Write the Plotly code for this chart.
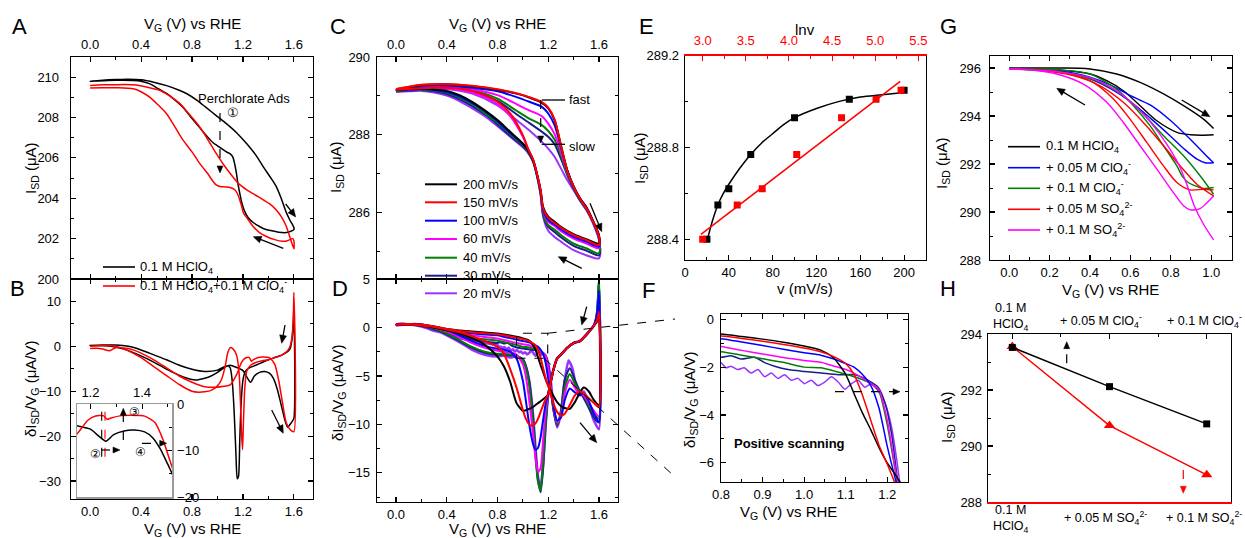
import math
import numpy as np
import plotly.graph_objects as go

FONT = "Liberation Sans, Arial, Helvetica, sans-serif"
W, H = 1245, 538

# ======================= DATA =======================
# ---- Panel A : I_SD (uA) vs V_G, forward + reverse sweeps
A_k_fwd_v = [0, 0.1, 0.2, 0.3, 0.4, 0.5, 0.6, 0.7, 0.76, 0.84, 0.91, 1.0, 1.07, 1.15, 1.23, 1.3, 1.36, 1.42, 1.46, 1.5, 1.54, 1.57, 1.6]
A_k_fwd_i = [209.8, 209.85, 209.88, 209.9, 209.87, 209.75, 209.58, 209.35, 209.18, 208.85, 208.5, 208.05, 207.7, 207.25, 206.7, 206.15, 205.56, 205.0, 204.6, 204.0, 203.3, 202.9, 202.55]
A_k_rev_v = [1.6, 1.57, 1.54, 1.48, 1.42, 1.38, 1.33, 1.28, 1.24, 1.21, 1.19, 1.175, 1.16, 1.15, 1.135, 1.12, 1.1, 1.07, 1.0, 0.966, 0.9, 0.86, 0.8, 0.73, 0.66, 0.6, 0.53, 0.47, 0.4, 0.34, 0.2, 0.1, 0]
A_k_rev_i = [202.45, 202.35, 202.3, 202.32, 202.4, 202.45, 202.6, 202.8, 203.05, 203.4, 203.8, 204.25, 204.75, 205.2, 205.7, 206.05, 206.2, 206.3, 206.6, 206.75, 207.2, 207.5, 207.95, 208.5, 208.9, 209.2, 209.45, 209.67, 209.8, 209.84, 209.85, 209.82, 209.8]
A_r_fwd_v = [0, 0.1, 0.2, 0.34, 0.45, 0.55, 0.63, 0.705, 0.78, 0.86, 0.93, 0.99, 1.05, 1.12, 1.17, 1.23, 1.3, 1.36, 1.41, 1.46, 1.5, 1.54, 1.57, 1.6]
A_r_fwd_i = [209.59, 209.62, 209.63, 209.62, 209.5, 209.34, 209.05, 208.69, 208.15, 207.54, 206.85, 206.22, 205.65, 205.07, 204.7, 204.42, 204.15, 203.92, 203.72, 203.43, 203.1, 202.61, 202.05, 201.5]
A_r_rev_v = [1.6, 1.59, 1.55, 1.51, 1.45, 1.38, 1.33, 1.28, 1.24, 1.21, 1.2, 1.19, 1.175, 1.155, 1.136, 1.1, 1.06, 1.02, 0.99, 0.966, 0.92, 0.86, 0.8, 0.73, 0.66, 0.6, 0.53, 0.47, 0.4, 0.34, 0.2, 0.1, 0]
A_r_rev_i = [201.9, 202.0, 201.9, 201.87, 201.95, 202.12, 202.3, 202.6, 202.95, 203.2, 203.35, 203.6, 203.92, 204.25, 204.42, 204.53, 204.56, 204.58, 204.66, 204.83, 205.25, 205.73, 206.3, 206.88, 207.6, 208.19, 208.65, 209.0, 209.28, 209.43, 209.48, 209.48, 209.47]

# ---- Panel B : dI_SD/dV_G (uA/V)
B_k_fwd_v = [0, 0.1, 0.2, 0.3, 0.4, 0.5, 0.6, 0.7, 0.8, 0.9, 1.0, 1.05, 1.1, 1.15, 1.2, 1.23, 1.26, 1.29, 1.33, 1.37, 1.41, 1.44, 1.47, 1.5, 1.53, 1.55, 1.58, 1.6]
B_k_fwd_d = [0.2, 0.3, 0.3, 0.0, -0.8, -1.9, -3.0, -4.2, -5.1, -5.6, -5.3, -4.6, -4.2, -4.7, -5.4, -6.8, -8.0, -6.6, -5.8, -5.6, -6.0, -7.2, -9.6, -13.0, -16.5, -18.0, -17.0, -16.0]
B_k_rev_v = [1.6, 1.595, 1.585, 1.57, 1.55, 1.5, 1.45, 1.4, 1.35, 1.3, 1.25, 1.22, 1.2, 1.185, 1.175, 1.165, 1.155, 1.145, 1.13, 1.115, 1.1, 1.08, 1.05, 1.0, 0.95, 0.9, 0.83, 0.75, 0.65, 0.55, 0.45, 0.35, 0.25, 0.15, 0.05, 0]
B_k_rev_d = [9.0, 5.0, 1.5, -0.5, -1.2, -2.0, -2.5, -3.0, -3.6, -4.2, -4.8, -5.5, -7.5, -13.0, -21.0, -29.0, -29.5, -24.0, -14.0, -7.5, -4.8, -4.3, -4.8, -5.8, -6.6, -7.1, -7.5, -7.0, -5.8, -4.3, -2.8, -1.5, -0.5, 0.1, 0.2, 0.2]
B_r_fwd_v = [0, 0.05, 0.1, 0.15, 0.2, 0.3, 0.4, 0.5, 0.6, 0.7, 0.8, 0.9, 1.0, 1.05, 1.1, 1.15, 1.19, 1.22, 1.25, 1.265, 1.28, 1.32, 1.36, 1.41, 1.45, 1.48, 1.51, 1.54, 1.57, 1.6]
B_r_fwd_d = [-0.5, -0.4, -0.6, -1.0, -0.3, -0.5, -1.5, -3.0, -4.8, -6.6, -8.0, -9.0, -9.1, -8.9, -8.6, -6.3, -3.5, -2.6, -2.5, -3.3, -3.0, -2.5, -2.4, -2.6, -4.0, -7.5, -12.5, -17.0, -18.5, -19.0]
B_r_rev_v = [1.6, 1.595, 1.585, 1.57, 1.55, 1.5, 1.45, 1.4, 1.35, 1.3, 1.26, 1.23, 1.215, 1.205, 1.197, 1.19, 1.18, 1.17, 1.15, 1.12, 1.1, 1.08, 1.06, 1.03, 1.0, 0.95, 0.9, 0.85, 0.8, 0.7, 0.6, 0.5, 0.4, 0.3, 0.2, 0.1, 0]
B_r_rev_d = [12.0, 6.0, 2.0, 0.0, -1.0, -2.0, -2.5, -3.0, -3.2, -3.6, -4.2, -5.5, -9.0, -16.0, -23.0, -20.0, -12.0, -6.0, -2.0, -0.5, -0.3, -1.5, -4.5, -7.5, -8.8, -9.8, -10.1, -10.2, -10.0, -8.5, -6.5, -4.5, -2.5, -1.0, 0.0, 0.2, 0.0]

# ---- Panel C : I_SD vs V_G at several scan rates
RATE_LABELS = ["200 mV/s", "150 mV/s", "100 mV/s", "60 mV/s", "40 mV/s", "30 mV/s", "20 mV/s"]
C_vf = [0, 0.2, 0.4, 0.6, 0.8, 0.95, 1.05, 1.15, 1.2, 1.25, 1.3, 1.35, 1.4, 1.45, 1.5, 1.55, 1.6]
C_fwd_200 = [289.17, 289.28, 289.30, 289.25, 289.16, 289.06, 288.96, 288.82, 288.68, 288.38, 287.74, 287.09, 286.68, 286.37, 286.14, 285.81, 285.43]
C_fwd_150 = [289.18, 289.29, 289.30, 289.26, 289.17, 289.07, 288.97, 288.84, 288.70, 288.40, 287.72, 287.08, 286.67, 286.36, 286.12, 285.80, 285.40]
C_fwd_100 = [289.15, 289.26, 289.27, 289.21, 289.12, 288.97, 288.85, 288.72, 288.55, 288.25, 287.68, 287.09, 286.68, 286.37, 286.14, 285.81, 285.40]
C_fwd_60 = [289.15, 289.25, 289.25, 289.17, 289.02, 288.79, 288.63, 288.48, 288.29, 288.02, 287.56, 287.05, 286.67, 286.37, 286.14, 285.81, 285.38]
C_fwd_40 = [289.14, 289.24, 289.23, 289.15, 288.93, 288.62, 288.42, 288.25, 288.10, 287.88, 287.48, 287.01, 286.64, 286.34, 286.11, 285.79, 285.37]
C_fwd_30 = [289.13, 289.23, 289.21, 289.11, 288.87, 288.53, 288.31, 288.08, 287.95, 287.76, 287.39, 286.97, 286.62, 286.32, 286.09, 285.78, 285.34]
C_fwd_20 = [289.11, 289.21, 289.18, 289.06, 288.76, 288.38, 288.12, 287.82, 287.65, 287.44, 287.14, 286.84, 286.58, 286.31, 286.07, 285.75, 285.30]
C_vr = [1.6, 1.5, 1.4, 1.3, 1.25, 1.2, 1.16, 1.14, 1.11, 1.08, 1.04, 1.0, 0.9, 0.8, 0.7, 0.6, 0.5, 0.4, 0.3, 0.2, 0.1, 0.0]
C_rev_200 = [285.21, 285.32, 285.45, 285.64, 285.77, 285.90, 286.15, 286.58, 287.01, 287.35, 287.61, 287.78, 288.08, 288.38, 288.63, 288.85, 289.02, 289.13, 289.17, 289.19, 289.18, 289.16]
C_rev_150 = [285.17, 285.30, 285.43, 285.62, 285.74, 285.87, 286.11, 286.58, 287.01, 287.37, 287.65, 287.99, 288.55, 288.85, 289.02, 289.13, 289.19, 289.21, 289.21, 289.20, 289.18, 289.16]
C_rev_100 = [285.13, 285.26, 285.38, 285.57, 285.70, 285.81, 286.07, 286.54, 287.01, 287.35, 287.61, 287.76, 288.05, 288.35, 288.61, 288.82, 288.99, 289.10, 289.15, 289.17, 289.16, 289.15]
C_rev_60 = [285.09, 285.21, 285.34, 285.53, 285.66, 285.77, 286.04, 286.54, 287.01, 287.37, 287.65, 287.95, 288.48, 288.79, 288.97, 289.09, 289.16, 289.19, 289.19, 289.18, 289.16, 289.15]
C_rev_40 = [284.96, 285.09, 285.21, 285.43, 285.57, 285.68, 285.98, 286.50, 286.97, 287.33, 287.58, 287.74, 288.02, 288.31, 288.56, 288.79, 288.96, 289.08, 289.14, 289.15, 289.15, 289.13]
C_rev_30 = [284.91, 285.03, 285.15, 285.37, 285.51, 285.64, 285.94, 286.50, 286.97, 287.33, 287.56, 287.71, 287.98, 288.27, 288.53, 288.74, 288.92, 289.05, 289.12, 289.15, 289.14, 289.12]
C_rev_20 = [284.83, 284.91, 285.04, 285.26, 285.38, 285.54, 285.90, 286.45, 286.97, 287.31, 287.54, 287.68, 287.95, 288.22, 288.48, 288.68, 288.87, 289.01, 289.09, 289.13, 289.12, 289.10]

# ---- Panel D (and F, zoom of forward scans): dI_SD/dV_G at several scan rates
D_vf = [0, 0.1, 0.2, 0.3, 0.4, 0.5, 0.6, 0.7, 0.8, 0.85, 0.9, 0.95, 1.0, 1.04, 1.07, 1.1, 1.12, 1.14, 1.16, 1.18, 1.2, 1.22, 1.24, 1.27, 1.3, 1.33, 1.37, 1.41, 1.45, 1.48, 1.52, 1.56, 1.6]
D_fwd_200 = [0.3, 0.35, 0.3, 0.1, -0.15, -0.3, -0.42, -0.52, -0.62, -0.72, -0.83, -0.96, -1.12, -1.29, -1.6, -2.3, -3.1, -3.9, -4.6, -5.35, -6.0, -6.5, -7.05, -7.7, -8.1, -8.3, -8.4, -7.7, -6.7, -6.2, -6.6, -7.5, -8.0]
D_fwd_150 = [0.3, 0.35, 0.3, 0.1, -0.15, -0.35, -0.48, -0.6, -0.7, -0.8, -0.92, -1.05, -1.2, -1.36, -1.55, -1.85, -2.3, -3.15, -4.2, -5.25, -6.05, -6.9, -7.8, -8.7, -9.1, -8.9, -8.0, -7.0, -6.6, -6.8, -7.3, -7.8, -8.2]
D_fwd_100 = [0.3, 0.35, 0.3, 0.05, -0.25, -0.45, -0.6, -0.72, -0.81, -0.95, -1.1, -1.25, -1.4, -1.5, -1.65, -1.85, -2.0, -2.3, -2.75, -3.7, -5.3, -6.7, -8.0, -9.6, -9.3, -7.5, -6.3, -6.7, -7.0, -6.8, -7.6, -8.9, -9.7]
D_fwd_60 = [0.3, 0.3, 0.25, 0.0, -0.35, -0.6, -0.8, -0.98, -1.14, -1.3, -1.45, -1.6, -1.72, -1.8, -1.95, -2.1, -2.25, -2.45, -2.68, -2.95, -4.2, -6.3, -8.0, -9.8, -9.2, -6.8, -5.4, -6.2, -7.0, -7.0, -7.8, -8.6, -9.2]
D_fwd_40 = [0.3, 0.3, 0.2, -0.1, -0.45, -0.8, -1.05, -1.22, -1.36, -1.5, -1.65, -1.8, -2.0, -2.03, -2.15, -2.3, -2.4, -2.52, -2.68, -3.0, -4.4, -6.4, -8.3, -10.0, -8.9, -6.2, -4.8, -5.8, -6.8, -7.0, -8.0, -8.9, -9.4]
D_v30 = [0, 0.1, 0.2, 0.3, 0.4, 0.5, 0.6, 0.7, 0.8, 0.824, 0.848, 0.881, 0.905, 0.929, 0.961, 1.001, 1.042, 1.082, 1.122, 1.154, 1.178, 1.195, 1.211, 1.223, 1.24, 1.27, 1.3, 1.33, 1.37, 1.41, 1.45, 1.48, 1.52, 1.56, 1.6]
D_fwd_30 = [0.3, 0.3, 0.15, -0.2, -0.6, -0.95, -1.2, -1.42, -1.59, -1.52, -1.66, -1.59, -1.81, -1.96, -2.1, -2.18, -2.25, -2.32, -2.32, -2.55, -2.84, -3.51, -4.84, -6.47, -8.5, -10.1, -8.6, -5.4, -4.2, -5.4, -6.6, -7.3, -8.3, -9.3, -9.8]
D_v20 = [0, 0.05, 0.1, 0.15, 0.2, 0.25, 0.3, 0.35, 0.4, 0.45, 0.5, 0.55, 0.6, 0.65, 0.7, 0.75, 0.8,
         0.812, 0.824, 0.840, 0.856, 0.872, 0.889, 0.905, 0.921, 0.937, 0.953, 0.969, 0.985, 1.001, 1.017,
         1.033, 1.050, 1.066, 1.082, 1.098, 1.114, 1.130, 1.146, 1.162, 1.178, 1.195, 1.211, 1.223, 1.231,
         1.25, 1.27, 1.3, 1.33, 1.36, 1.39, 1.425, 1.45, 1.48, 1.52, 1.56, 1.6]
D_fwd_20 = [0.3, 0.4, 0.3, 0.35, 0.1, -0.1, -0.35, -0.5, -0.75, -0.95, -1.1, -1.2, -1.35, -1.45, -1.6, -1.7, -1.81,
            -2.03, -1.96, -2.10, -2.03, -2.25, -2.10, -2.40, -2.25, -2.47, -2.32, -2.55, -2.47, -2.69, -2.55,
            -2.77, -2.62, -2.40, -2.62, -2.92, -2.69, -2.55, -2.84, -2.69, -2.99, -3.51, -4.55, -5.88, -6.92,
            -8.9, -10.3, -8.8, -5.5, -3.4, -4.2, -6.4, -6.7, -6.6, -8.0, -9.6, -10.5]
D_vr = [1.6, 1.59, 1.58, 1.56, 1.53, 1.5, 1.45, 1.4, 1.35, 1.3, 1.27, 1.24, 1.22, 1.2, 1.18, 1.16, 1.14, 1.12, 1.1, 1.08, 1.05, 1.02, 1.0, 0.95, 0.9, 0.85, 0.8, 0.7, 0.6, 0.5, 0.4, 0.3, 0.2, 0.1, 0]
D_rev_200 = [1.2, 0.8, 0.5, 0.2, -0.3, -0.75, -1.4, -1.6, -2.1, -2.8, -3.2, -4.4, -5.6, -6.9, -7.2, -7.4, -7.6, -7.8, -8.0, -8.2, -8.4, -8.55, -8.6, -7.8, -5.6, -4.0, -3.0, -1.8, -1.1, -0.6, -0.3, 0.0, 0.2, 0.3, 0.3]
D_rev_150 = [1.6, 1.0, 0.6, 0.2, -0.3, -0.75, -1.4, -1.6, -2.1, -2.8, -3.2, -4.4, -5.6, -6.9, -7.4, -8.0, -8.7, -9.4, -9.9, -10.1, -10.0, -9.3, -8.5, -6.2, -4.3, -2.7, -2.0, -1.4, -0.9, -0.5, -0.2, 0.05, 0.2, 0.3, 0.3]
D_rev_100 = [3.8, 2.0, 1.0, 0.2, -0.3, -0.75, -1.4, -1.6, -2.1, -2.8, -3.2, -4.4, -5.6, -6.9, -7.8, -9.5, -11.3, -12.4, -12.6, -12.0, -10.0, -7.2, -5.5, -3.2, -2.5, -2.3, -2.2, -1.9, -1.4, -0.8, -0.3, 0.0, 0.2, 0.3, 0.3]
D_rev_60 = [3.5, 1.8, 0.9, 0.2, -0.3, -0.75, -1.4, -1.6, -2.1, -2.8, -3.2, -4.4, -5.6, -6.9, -8.5, -11.5, -14.5, -14.9, -13.5, -11.0, -7.5, -4.8, -3.8, -2.8, -2.6, -2.5, -2.4, -2.1, -1.6, -1.0, -0.4, 0.0, 0.2, 0.3, 0.3]
D_rev_40 = [5.0, 2.5, 1.1, 0.2, -0.3, -0.75, -1.4, -1.6, -2.1, -2.8, -3.2, -4.4, -5.6, -6.9, -9.5, -13.5, -16.8, -16.0, -13.5, -10.0, -6.0, -4.0, -3.4, -2.9, -2.8, -2.7, -2.7, -2.5, -2.0, -1.3, -0.6, -0.1, 0.2, 0.3, 0.3]
D_rev_30 = [4.8, 2.4, 1.1, 0.2, -0.3, -0.75, -1.4, -1.6, -2.1, -2.8, -3.2, -4.4, -5.6, -6.9, -10.0, -14.5, -17.0, -15.8, -12.8, -9.2, -5.5, -3.8, -3.3, -2.9, -2.9, -2.8, -2.8, -2.6, -2.1, -1.4, -0.7, -0.15, 0.15, 0.3, 0.3]
D_rev_20 = [4.5, 2.2, 1.0, 0.2, -0.3, -0.75, -1.4, -1.6, -2.1, -2.8, -3.2, -4.4, -5.6, -6.9, -10.0, -14.0, -16.4, -15.5, -12.5, -9.0, -5.5, -3.9, -3.3, -3.0, -3.1, -2.9, -3.0, -2.8, -2.3, -1.5, -0.8, -0.2, 0.1, 0.3, 0.2]

# ---- Panel E : I_SD at fixed V_G vs scan rate v and ln v
E_v = [20, 30, 40, 60, 100, 150, 200]
E_lnv = [3.00, 3.40, 3.69, 4.09, 4.61, 5.01, 5.30]
E_isd = [288.40, 288.55, 288.62, 288.77, 288.93, 289.01, 289.05]
E_fit_v = [20, 25, 30, 35, 40, 50, 60, 70, 80, 90, 100, 120, 140, 160, 180, 200]
E_fit_i = [288.39, 288.48, 288.55, 288.60, 288.64, 288.71, 288.77, 288.82, 288.86, 288.90, 288.93, 288.97, 289.00, 289.02, 289.03, 289.04]
E_lin_range = [2.98, 5.29]

# ---- Panel G : I_SD vs V_G in different electrolytes
G_labels = ["0.1 M HClO<sub>4</sub>", "+ 0.05 M ClO<sub>4</sub><sup>-</sup>", "+ 0.1 M ClO<sub>4</sub><sup>-</sup>",
            "+ 0.05 M SO<sub>4</sub><sup>2-</sup>", "+ 0.1 M SO<sub>4</sub><sup>2-</sup>"]
G_k_fwd_v = [0, 0.235, 0.4, 0.532, 0.648, 0.764, 0.863, 0.962, 1.012]
G_k_fwd_i = [296.0, 296.0, 295.96, 295.75, 295.40, 294.92, 294.43, 293.87, 293.48]
G_k_rev_v = [1.012, 0.95, 0.896, 0.83, 0.731, 0.648, 0.565, 0.483, 0.4, 0.235, 0]
G_k_rev_i = [293.22, 293.2, 293.22, 293.32, 293.80, 294.43, 295.05, 295.47, 295.75, 295.93, 295.96]
G_b_fwd_v = [0, 0.2, 0.3, 0.4, 0.5, 0.6, 0.7, 0.8, 0.9, 0.97, 1.012]
G_b_fwd_i = [295.96, 295.9, 295.82, 295.62, 295.3, 294.85, 294.45, 293.8, 293.0, 292.4, 292.05]
G_b_rev_v = [1.012, 0.97, 0.93, 0.87, 0.8, 0.7, 0.6, 0.5, 0.4, 0.3, 0.15, 0]
G_b_rev_i = [292.05, 292.05, 292.2, 292.6, 293.15, 293.9, 294.6, 295.15, 295.55, 295.8, 295.92, 295.96]
G_g_fwd_v = [0, 0.15, 0.317, 0.45, 0.565, 0.664, 0.764, 0.863, 0.945, 1.012]
G_g_fwd_i = [295.99, 295.93, 295.75, 295.40, 294.85, 294.08, 293.18, 292.34, 291.51, 290.74]
G_g_rev_v = [1.012, 0.962, 0.912, 0.888, 0.86, 0.83, 0.764, 0.698, 0.615, 0.532, 0.4, 0.235, 0]
G_g_rev_i = [291.02, 290.98, 291.12, 291.22, 291.45, 291.92, 292.76, 293.59, 294.43, 295.12, 295.75, 295.93, 295.96]
G_r_fwd_v = [0, 0.15, 0.317, 0.45, 0.565, 0.664, 0.764, 0.846, 0.929, 1.012]
G_r_fwd_i = [295.96, 295.9, 295.68, 295.26, 294.57, 293.73, 292.76, 291.92, 291.16, 290.67]
G_r_rev_v = [1.012, 0.962, 0.896, 0.83, 0.764, 0.681, 0.598, 0.516, 0.4, 0.235, 0]
G_r_rev_i = [290.92, 290.95, 290.92, 291.23, 291.92, 292.90, 293.87, 294.71, 295.47, 295.85, 295.96]
G_m_fwd_v = [0, 0.235, 0.4, 0.532, 0.631, 0.714, 0.78, 0.838, 0.879, 0.916, 0.962, 1.012]
G_m_fwd_i = [295.96, 295.85, 295.6, 295.05, 294.36, 293.59, 292.83, 292.0, 291.16, 290.26, 289.49, 288.84]
G_m_rev_v = [1.012, 0.979, 0.945, 0.896, 0.863, 0.813, 0.731, 0.648, 0.565, 0.483, 0.367, 0.235, 0.102, 0]
G_m_rev_i = [290.67, 290.39, 290.14, 290.09, 290.26, 290.81, 291.79, 292.76, 293.73, 294.57, 295.33, 295.75, 295.92, 295.96]

# ---- Panel H : I_SD vs added anion
H_pos = [0, 1, 2]
H_top_labels = ["0.1 M<br>HClO<sub>4</sub>", "+ 0.05 M ClO<sub>4</sub><sup>-</sup>", "+ 0.1 M ClO<sub>4</sub><sup>-</sup>"]
H_bot_labels = ["0.1 M<br>HClO<sub>4</sub>", "+ 0.05 M SO<sub>4</sub><sup>2-</sup>", "+ 0.1 M SO<sub>4</sub><sup>2-</sup>"]
H_clo4 = [293.52, 292.12, 290.79]
H_so4 = [293.55, 290.73, 288.97]

# ======================= STYLE / LAYOUT =======================
RATE_COLORS = ["#000000", "#ff0000", "#0000ff", "#ff00ff", "#008000", "#1c1c8c", "#9933ff"]
G_COLORS = ["#000000", "#0000ff", "#008000", "#ff0000", "#ff00ff"]


def dx(a, b):
    return [a / W, b / W]


def dy(top, bot):
    return [1 - bot / H, 1 - top / H]


def axis(dom, rng, dtick=None, mdtick=None, tick0=0, side=None, anchor=None, mirror='allticks',
         labels=True, line='black', tick='black', font='black', tickvals=None, ticktext=None,
         overlaying=None, lw=1.3, fsize=13, standoff=2, ticks='inside', fmt=None):
    d = dict(range=rng, showgrid=False, zeroline=False, showline=True, linecolor=line, linewidth=lw,
             ticks=ticks, ticklen=5, tickwidth=1.1, tickcolor=tick, mirror=mirror,
             showticklabels=labels, tickfont=dict(family=FONT, size=fsize, color=font),
             ticklabelstandoff=standoff, anchor=anchor, automargin=False, fixedrange=True)
    if fmt:
        d['tickformat'] = fmt
    if dom is not None:
        d['domain'] = dom
    if side:
        d['side'] = side
    if overlaying:
        d['overlaying'] = overlaying
    if tickvals is not None:
        d['tickmode'] = 'array'
        d['tickvals'] = tickvals
        if ticktext is not None:
            d['ticktext'] = ticktext
    else:
        d['tick0'] = tick0
        d['dtick'] = dtick
    if mdtick:
        d['minor'] = dict(ticks='inside', ticklen=3, tickwidth=1, tickcolor=tick, dtick=mdtick, tick0=tick0)
    return d


VRANGE = [-0.15, 1.75]
GRAY = '#9a9a9a'
layout_axes = dict(
    xaxis=axis(dx(71, 313), VRANGE, 0.4, 0.2, side='top', anchor='y', fmt='.1f'),
    yaxis=axis(dy(57, 279), [200, 211], 2, 1, anchor='x', standoff=8),
    xaxis2=axis(dx(71, 313), VRANGE, 0.4, 0.2, anchor='y2', fmt='.1f', standoff=0),
    yaxis2=axis(dy(279, 499), [-34, 15], 10, 5, anchor='x2', standoff=6),
    xaxis3=axis(dx(77, 172), [1.148, 1.516], 0.2, 0.1, tick0=1.2, side='top', anchor='y3', mirror=True,
                line=GRAY, lw=1.5, standoff=0, fmt='.1f'),
    yaxis3=axis(dy(404, 497), [-20, 0], 10, 5, side='right', anchor='x3', mirror=True, line=GRAY, lw=1.5,
                standoff=1),
    xaxis4=axis(dx(377, 618), VRANGE, 0.4, 0.2, side='top', anchor='y4', fmt='.1f'),
    yaxis4=axis(dy(57, 279), [284.3, 290], 2, 1, anchor='x4', standoff=3),
    xaxis5=axis(dx(377, 618), VRANGE, 0.4, 0.2, anchor='y5', fmt='.1f', standoff=0),
    yaxis5=axis(dy(279, 502), [-18, 5], 5, 2.5, anchor='x5', standoff=3),
    xaxis6=axis(dx(685, 926), [0, 220], 40, 20, anchor='y6', mirror=False, standoff=0),
    yaxis6=axis(dy(55.7, 260), [288.31, 289.2], 0.4, 0.2, tick0=288.4, anchor='x6', mirror=True,
                fmt='.1f', standoff=2),
    xaxis7=axis(None, [2.795, 5.589], 0.5, 0.25, tick0=3.0, side='top', anchor='y6', overlaying='x6',
                mirror=False, line='#ff0000', tick='#ff0000', font='#ff0000', lw=1.6, fmt='.1f', standoff=4),
    xaxis8=axis(dx(721, 908), [0.8, 1.25], 0.1, 0.05, tick0=0.8, anchor='y8', fmt='.1f', standoff=0),
    yaxis8=axis(dy(314, 482), [-6.8, 0.22], 2, 1, anchor='x8', standoff=3),
    xaxis9=axis(dx(990, 1232), [-0.095, 1.103], 0.2, 0.1, anchor='y9', fmt='.1f', standoff=0),
    yaxis9=axis(dy(56, 260), [288, 296.5], 2, 1, anchor='x9', standoff=5),
    xaxis10=axis(dx(988, 1231), [-0.25, 2.25], tickvals=H_pos, labels=False, anchor='y10',
                 mirror=False, line='#ff0000', lw=1.8, ticks=''),
    yaxis10=axis(dy(334, 502), [288, 294], 2, 1, anchor='x10', mirror=True, standoff=2),
    xaxis11=axis(None, [-0.25, 2.25], tickvals=H_pos, labels=False, mdtick=0.5, side='top',
                 anchor='y10', overlaying='x10', mirror=False),
)

traces = []


def line(xs, ys, xa, ya, color, width=1.5, smooth=0.8):
    traces.append(go.Scatter(x=xs, y=ys, xaxis=xa, yaxis=ya, mode='lines',
                             line=dict(color=color, width=width, shape='spline', smoothing=smooth),
                             showlegend=False, hoverinfo='skip'))


# Panel A
line(A_k_fwd_v + A_k_rev_v, A_k_fwd_i + A_k_rev_i, 'x', 'y', 'black', 1.5)
line(A_r_fwd_v + A_r_rev_v, A_r_fwd_i + A_r_rev_i, 'x', 'y', '#ff0000', 1.5)
# Panel B (+ inset with forward scans)
line(B_k_fwd_v + B_k_rev_v, B_k_fwd_d + B_k_rev_d, 'x2', 'y2', 'black', 1.5, 0.6)
line(B_r_fwd_v + B_r_rev_v, B_r_fwd_d + B_r_rev_d, 'x2', 'y2', '#ff0000', 1.5, 0.6)
line(B_k_fwd_v, B_k_fwd_d, 'x3', 'y3', 'black', 1.5, 0.6)
line(B_r_fwd_v, B_r_fwd_d, 'x3', 'y3', '#ff0000', 1.5, 0.6)

# Panel C
C_fwd = [C_fwd_200, C_fwd_150, C_fwd_100, C_fwd_60, C_fwd_40, C_fwd_30, C_fwd_20]
C_rev = [C_rev_200, C_rev_150, C_rev_100, C_rev_60, C_rev_40, C_rev_30, C_rev_20]
order = [6, 5, 4, 3, 2, 0, 1]
for k in order:
    line(C_vf + C_vr, C_fwd[k] + C_rev[k], 'x4', 'y4', RATE_COLORS[k], 2.0)

# Panel D and F
D_fwd_v = [D_vf, D_vf, D_vf, D_vf, D_vf, D_v30, D_v20]
D_fwd = [D_fwd_200, D_fwd_150, D_fwd_100, D_fwd_60, D_fwd_40, D_fwd_30, D_fwd_20]
D_rev = [D_rev_200, D_rev_150, D_rev_100, D_rev_60, D_rev_40, D_rev_30, D_rev_20]
for k in order:
    wd = 2.6 if k == 6 else 2.0
    line(D_fwd_v[k] + D_vr, D_fwd[k] + D_rev[k], 'x5', 'y5', RATE_COLORS[k], wd, 0.6)
for k in order:
    line(D_fwd_v[k], D_fwd[k], 'x8', 'y8', RATE_COLORS[k], 1.5, 0.6)

# Panel E
traces.append(go.Scatter(x=E_fit_v, y=E_fit_i, xaxis='x6', yaxis='y6', mode='lines',
                         line=dict(color='black', width=1.5, shape='spline'), showlegend=False, hoverinfo='skip'))
coef = np.polyfit(E_lnv, E_isd, 1)
traces.append(go.Scatter(x=E_lin_range, y=list(np.polyval(coef, E_lin_range)), xaxis='x7', yaxis='y6',
                         mode='lines', line=dict(color='#ff0000', width=1.5), showlegend=False, hoverinfo='skip'))
traces.append(go.Scatter(x=E_lnv, y=E_isd, xaxis='x7', yaxis='y6', mode='markers',
                         marker=dict(symbol='square', size=7, color='#ff0000'), showlegend=False, hoverinfo='skip'))
traces.append(go.Scatter(x=E_v, y=E_isd, xaxis='x6', yaxis='y6', mode='markers',
                         marker=dict(symbol='square', size=7, color='black'), showlegend=False, hoverinfo='skip'))

# Panel G
G_sets = [(G_k_fwd_v, G_k_fwd_i, G_k_rev_v, G_k_rev_i), (G_b_fwd_v, G_b_fwd_i, G_b_rev_v, G_b_rev_i),
          (G_g_fwd_v, G_g_fwd_i, G_g_rev_v, G_g_rev_i), (G_r_fwd_v, G_r_fwd_i, G_r_rev_v, G_r_rev_i),
          (G_m_fwd_v, G_m_fwd_i, G_m_rev_v, G_m_rev_i)]
for k, (fv, fi, rv, ri) in enumerate(G_sets):
    line(fv + [None] + rv, fi + [None] + ri, 'x9', 'y9', G_COLORS[k], 1.4)

# Panel H (ClO4- series on the top axis, SO4 2- series on the bottom axis)
traces.append(go.Scatter(x=H_pos, y=H_so4, xaxis='x10', yaxis='y10', mode='lines+markers',
                         line=dict(color='#ff0000', width=1.5),
                         marker=dict(symbol='triangle-up', size=10, color='#ff0000'),
                         showlegend=False, hoverinfo='skip'))
traces.append(go.Scatter(x=H_pos, y=H_clo4, xaxis='x11', yaxis='y10', mode='lines+markers',
                         line=dict(color='black', width=1.5), marker=dict(symbol='square', size=7, color='black'),
                         showlegend=False, hoverinfo='skip'))

# ======================= ANNOTATIONS / SHAPES =======================
shapes = []
annotations = []


def P(x, y):
    return x / W, 1 - y / H


def pline(x0, y0, x1, y1, color='black', width=1.2, dash='solid'):
    a, b = P(x0, y0)
    c, d = P(x1, y1)
    shapes.append(dict(type='line', xref='paper', yref='paper', x0=a, y0=b, x1=c, y1=d,
                       line=dict(color=color, width=width, dash=dash)))


def ptext(x, y, text, size=13, color='black', xanchor='left', angle=0):
    a, b = P(x, y)
    annotations.append(dict(xref='paper', yref='paper', x=a, y=b, text=text, showarrow=False,
                            xanchor=xanchor, yanchor='middle', textangle=angle,
                            font=dict(family=FONT, size=size, color=color)))


def parrow(x0, y0, x1, y1, color='black', width=1.3, dash='solid', hl=8, hw=3.5):
    L = math.hypot(x1 - x0, y1 - y0)
    ux, uy = (x1 - x0) / L, (y1 - y0) / L
    pline(x0, y0, x1 - ux * hl * 0.7, y1 - uy * hl * 0.7, color, width, dash)
    bx, by = x1 - ux * hl, y1 - uy * hl
    pts = [(x1, y1), (bx - uy * hw, by + ux * hw), (bx + uy * hw, by - ux * hw)]
    path = "M " + " L ".join("%.5f %.5f" % P(px, py) for px, py in pts) + " Z"
    shapes.append(dict(type='path', xref='paper', yref='paper', path=path, fillcolor=color,
                       line=dict(color=color, width=0.5)))


def pdarrow(x0, y0, x1, y1, color='black', width=1.2):
    parrow(x0, y0, x1, y1, color, width, 'dash', hl=7, hw=3)


VG = "V<sub>G</sub> (V) vs RHE"
ISD = "I<sub>SD</sub> (\u03bcA)"
DISD = "\u03b4I<sub>SD</sub>/V<sub>G</sub> (\u03bcA/V)"

# panel letters
for ltr, x, y in [("A", 20, 26), ("B", 17, 288), ("C", 338, 26), ("D", 340, 288),
                  ("E", 646, 26), ("F", 648, 290), ("G", 948, 26), ("H", 948, 288)]:
    ptext(x, y, ltr, size=22, xanchor='center')

# axis titles
ptext(192, 25, VG, 15, xanchor='center')
ptext(31, 168, ISD, 15, xanchor='center', angle=-90)
ptext(31, 389, DISD, 15, xanchor='center', angle=-90)
ptext(192, 529, VG, 15, xanchor='center')
ptext(497, 25, VG, 15, xanchor='center')
ptext(337, 167, ISD, 15, xanchor='center', angle=-90)
ptext(338, 393, DISD, 15, xanchor='center', angle=-90)
ptext(497, 529, VG, 15, xanchor='center')
ptext(805, 29, "lnv", 15, xanchor='center')
ptext(641, 158, ISD, 15, xanchor='center', angle=-90)
ptext(805, 288, "v (mV/s)", 15, xanchor='center')
ptext(690, 400, DISD, 15, xanchor='center', angle=-90)
ptext(788, 512, VG, 15, xanchor='center')
ptext(943, 163, ISD, 15, xanchor='center', angle=-90)
ptext(1110, 290, VG, 15, xanchor='center')
ptext(947, 417, ISD, 15, xanchor='center', angle=-90)

# Panel H category labels (top: ClO4- series, bottom: SO4 2- series)
ptext(1011, 317, H_top_labels[0], 12.5, xanchor='center')
ptext(1101, 321, H_top_labels[1], 12.5, xanchor='center')
ptext(1244, 321, H_top_labels[2], 12.5, xanchor='right')
ptext(1011, 519, H_bot_labels[0], 12.5, xanchor='center')
ptext(1105, 518, H_bot_labels[1], 12.5, xanchor='center')
ptext(1244, 518, H_bot_labels[2], 12.5, xanchor='right')

# Panel A/B legend
pline(103, 267, 135, 267, 'black', 1.6)
ptext(138, 267, "0.1 M HClO<sub>4</sub>", 13)
pline(103, 286, 135, 286, '#ff0000', 1.6)
ptext(138, 286, "0.1 M HClO<sub>4</sub>+0.1 M ClO<sub>4</sub><sup>-</sup>", 13)

# Panel A annotations
ptext(244, 98, "Perchlorate Ads", 13, xanchor='center')
ptext(233, 113, "\u2460", 13, xanchor='center')
pdarrow(220, 113, 220, 173)
parrow(285.7, 204, 295.7, 217)
parrow(283.3, 248.3, 253.3, 236.7)

# Panel B annotations
parrow(285, 325, 281.7, 343.3)
parrow(271.7, 410, 283.3, 433.3)
# inset markers
pline(101.7, 411.7, 101.7, 456.7, 'black', 1.1, 'dash')
pline(105, 411.7, 105, 456.7, '#ff0000', 1.1, 'dash')
pdarrow(101, 450, 120, 450)
pdarrow(123.3, 440, 123.3, 408.3)
pdarrow(142, 443.3, 166.7, 443.3)
ptext(95.5, 453.5, "\u2461", 12, xanchor='center')
ptext(134, 411.5, "\u2462", 12, xanchor='center')
ptext(140, 452, "\u2463", 12, xanchor='center')

# Panel C legend
leg_y = [184.3, 202.3, 220.7, 239, 257.7, 275.7, 293.3]
for k in range(7):
    pline(425, leg_y[k], 457, leg_y[k], RATE_COLORS[k], 2.0)
    ptext(461, leg_y[k], RATE_LABELS[k], 13)
# fast / slow markers
pline(541.7, 100, 565, 100, 'black', 1.3)
pline(541.7, 144.3, 565, 144.3, 'black', 1.3)
pdarrow(540.7, 100, 540.7, 143)
ptext(567, 100, "fast", 13)
ptext(567, 146.5, "slow", 13)
parrow(590, 203.3, 601.7, 231.7)
parrow(581.7, 268.3, 558.3, 256.7)

# Panel D annotations
parrow(586.7, 306.7, 581.7, 325)
parrow(580, 422.7, 596.7, 442.7)
a0, b0 = P(516.5, 333.3)
a1, b1 = P(547.7, 358.3)
shapes.append(dict(type='rect', xref='paper', yref='paper', x0=a0, y0=b1, x1=a1, y1=b0,
                   line=dict(color='black', width=1.1, dash='dash')))
pline(547.7, 333.3, 675, 319, 'black', 1.1, 'dash')
pline(544, 358.3, 673, 475, 'black', 1.0, 'dash')

# Panel F annotations
pdarrow(835, 391.7, 900, 391.7)
ptext(732, 443.5, "<b>Positive scanning</b>", 13)

# Panel G legend and arrows
g_leg_y = [146.7, 167.7, 188.3, 209.3, 230]
for k in range(5):
    pline(1008, g_leg_y[k], 1040, g_leg_y[k], G_COLORS[k], 1.6)
    ptext(1044, g_leg_y[k], G_labels[k], 13)
parrow(1181.7, 100, 1210, 116.7)
parrow(1085, 105, 1056.7, 88.3)

# Panel H arrows
pdarrow(1066.7, 363.3, 1066.7, 341.7, 'black')
pdarrow(1183.3, 470, 1183.3, 493.3, '#ff0000')

fig = go.Figure(data=traces)
fig.update_layout(width=W, height=H, autosize=False,
                  margin=dict(l=0, r=0, t=0, b=0, pad=0, autoexpand=False),
                  paper_bgcolor='white', plot_bgcolor='white', showlegend=False,
                  font=dict(family=FONT, size=13, color='black'),
                  shapes=shapes, annotations=annotations, **layout_axes)
fig.write_html("out.html", config={'displayModeBar': False, 'staticPlot': True},
               post_script="document.body.style.margin='0';document.body.style.overflow='hidden';")
